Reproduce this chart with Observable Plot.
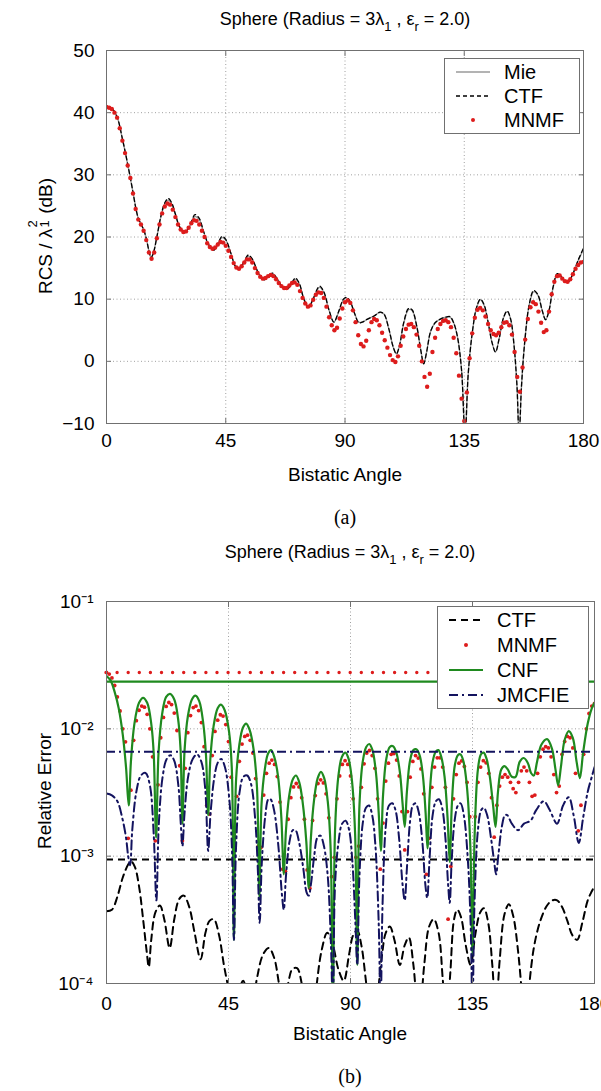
<!DOCTYPE html>
<html>
<head>
<meta charset="utf-8">
<script src="https://cdn.jsdelivr.net/npm/d3@7"></script>
<script src="https://cdn.jsdelivr.net/npm/@observablehq/plot@0.6"></script>
<style>
html,body{margin:0;padding:0;background:#fff;}
#wrap{position:relative;width:601px;height:1091px;overflow:hidden;font-family:"Liberation Sans",Arial,Helvetica,sans-serif;color:#000;background:#fff;}
#wrap svg.chart{position:absolute;left:0;}
.t{position:absolute;white-space:nowrap;transform:translate(-50%,-50%);line-height:1;}
.title{font-size:18px;}
.xl{font-size:19px;}
.yl{font-size:19px;transform:translate(-50%,-50%) rotate(-90deg);}
.pl{font-family:"Liberation Serif","Times New Roman",serif;font-size:20px;}
.title sub{font-size:0.72em;vertical-align:-0.5em;line-height:0;}
.ss{display:inline-block;position:relative;width:0.5em;height:1em;}
.ss .sp{position:absolute;left:1px;top:-0.5em;font-size:0.68em;}
.ss .sb{position:absolute;left:1px;top:0.45em;font-size:0.68em;}
svg.legend{position:absolute;}
</style>
</head>
<body>
<div id="wrap"></div>
<script>
// ---------------- DATA ----------------
const xTicks = [0, 45, 90, 135, 180];
const rcsTicks = [-10, 0, 10, 20, 30, 40, 50];
const errTicks = [1e-4, 1e-3, 1e-2, 1e-1];
const errTickLabels = ["10\u207B\u2074", "10\u207B\u00B3", "10\u207B\u00B2", "10\u207B\u00B9"];

// (a) RCS / lambda^2 (dB) — Mie reference, read as [angle, dB]
const mieCurve = [[0,41.0],[2,40.7],[4,39.3],[6,35.8],[8,31.7],[10,27.2],[11,24.8],[12,23.0],[13,22.1],[14,21.2],[15,19.8],[16,17.8],[16.8,16.7],[17.6,17.3],[19,20.0],[20.5,23.2],[22,25.3],[23.3,25.9],[24.6,25.3],[26,23.6],[27.5,21.7],[29.5,20.7],[31.5,21.8],[33.4,23.3],[35,22.8],[36.5,21.0],[38.5,18.8],[40.5,17.9],[42.2,19.0],[43.6,19.9],[45,19.5],[47,17.3],[48.5,15.4],[49.9,14.8],[51.5,15.6],[53.5,16.9],[55,16.4],[57,14.5],[59.3,13.1],[61,13.6],[62.6,14.1],[64.5,13.2],[66.5,11.9],[68.2,11.6],[70,12.6],[71.3,13.2],[72.8,12.4],[74.5,10.0],[76.3,8.7],[78,10.0],[80.4,11.9],[82,11.1],[84,8.2],[85.8,6.3],[87.5,7.8],[89.4,9.9],[90.5,10.2],[92,9.5],[93.7,7.6],[95.2,6.3],[96.5,6.3],[98.5,6.8],[101,7.3],[103.2,7.9],[104.7,7.6],[106.5,5.3],[108.2,2.3],[109.4,1.2],[110.6,2.6],[112.2,6.2],[114,8.3],[115.3,8.2],[117,5.8],[118.6,1.8],[119.7,-0.4],[120.8,1.5],[122.3,4.8],[124,6.2],[126,6.8],[128,7.1],[129.6,7.1],[131,6.2],[132.5,3.8],[134,-1.5],[135.3,-12],[136.5,-2],[138,4.5],[139.6,8.5],[141.1,9.9],[142.5,9.0],[144,6.3],[145.5,3.0],[146.8,1.5],[148.2,3.7],[149.8,7.0],[151.2,8.0],[152.5,6.8],[153.8,2.5],[154.9,-4],[155.7,-12],[156.6,-4],[157.8,3.0],[159.5,9.0],[161.2,11.2],[162.8,10.6],[164.4,8.2],[165.7,6.7],[167,8.2],[168.5,11.8],[170.1,14.0],[171.6,13.6],[173,12.9],[174.3,12.8],[176,14.0],[178,16.2],[180,18.0]];

// (a) CTF, read as [angle, dB]
const ctfCurve = [[0,41.0],[2,40.7],[4,39.3],[6,35.8],[8,31.7],[10,27.2],[11,24.8],[12,23.0],[13,22.1],[14,21.2],[15,19.8],[16,17.8],[16.8,16.7],[17.6,17.3],[19,20.0],[20.5,23.3],[22,25.5],[23.3,26.2],[24.6,25.5],[26,23.7],[27.5,21.7],[29.5,20.7],[31.5,21.9],[33.4,23.6],[35,23.0],[36.5,21.1],[38.5,18.8],[40.5,17.9],[42.2,19.1],[43.6,20.1],[45,19.6],[47,17.3],[48.5,15.4],[49.9,14.8],[51.5,15.7],[53.5,17.1],[55,16.5],[57,14.5],[59.3,13.1],[61,13.7],[62.6,14.2],[64.5,13.2],[66.5,11.9],[68.2,11.6],[70,12.7],[71.3,13.4],[72.8,12.5],[74.5,10.0],[76.3,8.7],[78,10.1],[80.4,12.1],[82,11.2],[84,8.2],[85.8,6.3],[87.5,7.9],[89.4,10.0],[90.5,10.3],[92,9.6],[93.7,7.6],[95.2,6.2],[96.5,6.3],[98.5,6.8],[101,7.3],[103.2,7.9],[104.7,7.6],[106.5,5.3],[108.2,2.3],[109.4,1.2],[110.6,2.6],[112.2,6.3],[114,8.5],[115.3,8.3],[117,5.8],[118.6,1.8],[119.7,-0.4],[120.8,1.5],[122.3,4.8],[124,6.2],[126,6.8],[128,7.1],[129.6,7.2],[131,6.2],[132.5,3.8],[134,-1.5],[135.3,-12],[136.5,-2],[138,4.5],[139.6,8.6],[141.1,10.0],[142.5,9.1],[144,6.3],[145.5,3.0],[146.8,1.5],[148.2,3.7],[149.8,7.0],[151.2,8.1],[152.5,6.8],[153.8,2.5],[154.9,-4],[155.7,-12],[156.6,-4],[157.8,3.0],[159.5,9.1],[161.2,11.4],[162.8,10.7],[164.4,8.2],[165.7,6.7],[167,8.2],[168.5,11.9],[170.1,14.1],[171.6,13.6],[173,12.9],[174.3,12.8],[176,14.1],[178,16.3],[180,18.2]];

// (a) MNMF, one value per degree 0..180 (dB)
const mnmfRcs = [
  40.9,40.8,40.6,40.0,39.2,37.5,35.5,33.5,31.5,29.5,
  27.0,24.5,22.8,22.0,21.0,19.5,17.5,16.5,17.5,19.8,
  22.0,23.8,24.9,25.4,25.2,24.4,23.2,22.0,21.2,20.8,
  20.9,21.5,22.2,22.7,22.6,22.0,21.0,20.0,19.0,18.4,
  18.1,18.3,18.8,19.2,19.1,18.6,17.8,16.8,15.8,15.1,
  14.9,15.3,15.9,16.4,16.4,15.9,15.0,14.2,13.6,13.3,
  13.4,13.7,13.9,13.7,13.2,12.6,12.1,11.8,11.8,12.2,
  12.6,12.7,12.3,11.3,10.2,9.3,8.8,9.0,9.9,10.7,
  11.1,11.0,10.2,8.8,7.1,5.8,5.0,5.4,6.9,8.5,
  9.5,9.8,9.4,8.2,6.3,4.2,2.8,2.4,3.3,5.0,
  6.3,6.8,6.6,5.8,4.6,3.4,2.2,1.0,0.2,-0.1,
  0.8,2.5,4.0,5.2,5.9,6.0,5.5,4.3,2.5,0.0,
  -2.5,-4.1,-2.0,1.5,3.8,5.2,6.0,6.5,6.6,6.3,
  5.5,3.8,1.3,-2.3,-6.0,-9.6,-5.0,0.5,4.5,7.0,
  8.3,8.6,8.2,7.2,6.0,5.0,4.4,4.2,4.6,5.5,
  6.2,6.3,5.8,4.3,1.5,-2.5,-4.9,-1.0,3.5,6.8,
  8.7,9.5,9.2,8.0,6.2,4.7,5.0,8.0,10.8,12.8,
  13.7,13.8,13.3,12.9,12.8,13.2,14.0,14.9,15.5,15.9,
  16.0];

// (b) relative error, CTF, [angle, error]
const ctfErrCurve = [[0,0.00037],[2,0.00038],[4,0.00048],[6,0.00068],[8,0.00086],[9.1,0.00091],[10.5,0.00082],[12,0.00058],[13.5,0.00032],[14.8,0.00018],[15.6,0.000135],[16.5,0.00022],[18,0.00036],[19.7,0.00041],[21.3,0.00032],[23.3,0.00019],[25,0.00032],[26.8,0.00046],[28.5,0.00049],[30.5,0.0004],[32.5,0.00025],[34.7,0.000155],[36.5,0.00025],[38,0.00031],[39.6,0.00032],[41.5,0.00024],[43.3,0.00014],[44.7,0.000098],[46,0.00007],[47.5,0.00007],[49,0.00009],[50.4,0.000105],[52,0.00008],[53.5,0.00006],[55.5,0.00011],[57.8,0.00017],[59.9,0.00019],[61.8,0.00016],[63.6,0.0001],[65.2,0.00006],[67,0.0001],[68.6,0.00013],[70.3,0.000132],[72,0.0001],[73.5,0.00006],[75,0.00004],[77,0.00008],[79.3,0.00018],[81.4,0.00025],[83.5,0.0002],[85.5,0.00013],[87.5,0.000105],[89.5,0.00017],[91,0.00024],[92.5,0.00026],[94,0.0002],[95.8,0.0001],[97.5,0.00005],[99.5,0.00007],[101.5,0.00016],[103,0.00025],[104.5,0.00028],[106.2,0.00022],[108.2,0.00014],[110,0.0002],[111.5,0.00023],[113.2,0.00014],[115.2,0.00005],[117.2,0.00014],[119,0.00028],[120.7,0.00032],[122.5,0.00025],[124,0.00011],[125.3,0.00005],[126.8,0.00012],[128.2,0.00032],[129.4,0.00038],[130.8,0.00033],[132.5,0.0002],[134.3,0.00014],[136,0.00024],[137.8,0.00036],[139.2,0.00039],[140.8,0.0003],[142.3,0.00014],[143.6,0.00006],[145,0.00015],[146.8,0.00035],[148.4,0.00042],[150,0.00034],[151.8,0.00018],[153.3,0.00008],[154.6,0.00004],[156,0.0001],[157.8,0.0002],[160,0.00031],[162.5,0.00041],[164.5,0.00045],[166.2,0.00045],[168,0.0004],[170,0.00031],[171.8,0.00024],[173.6,0.00022],[175.5,0.0003],[177.5,0.00045],[179,0.00053],[180,0.00058]];

// (b) MNMF, one value per degree 0..180
const mnmfErr = [
  0.0277,0.0269,0.0251,0.0219,0.0178,0.0138,0.0100,0.0079,0.00138,0.0033,
  0.00813,0.0116,0.0140,0.0151,0.0148,0.0130,0.0100,0.00603,0.00132,0.00363,
  0.00851,0.0123,0.0150,0.0161,0.0155,0.0133,0.0097,0.00513,0.00132,0.0049,
  0.00933,0.0127,0.0147,0.0151,0.0139,0.0112,0.00724,0.00251,0.00214,0.00617,
  0.00955,0.0117,0.0129,0.0126,0.0108,0.00794,0.00417,0.00063,0.00295,0.00556,
  0.00759,0.00871,0.00891,0.00813,0.00646,0.00407,0.0012,0.00117,0.00302,0.00447,
  0.00537,0.00568,0.00525,0.00422,0.00266,0.00079,0.00076,0.00195,0.00288,0.0035,
  0.00372,0.0035,0.00288,0.00195,0.00078,0.00056,0.00191,0.00299,0.00372,0.00398,
  0.00376,0.00309,0.0020,0.00069,0.00098,0.00282,0.00427,0.00525,0.00562,0.00525,
  0.00427,0.00282,0.00098,0.0012,0.00347,0.00531,0.00646,0.00676,0.00617,0.0049,
  0.00282,0.00079,0.00182,0.00389,0.00537,0.00631,0.0064,0.00568,0.00427,0.00224,
  0.00112,0.00224,0.00417,0.00555,0.00617,0.00589,0.00484,0.00309,0.00072,0.00138,
  0.00347,0.00501,0.00592,0.00592,0.00501,0.00347,0.00032,0.00083,0.00282,0.00437,
  0.00537,0.0056,0.00507,0.0038,0.00204,0.00025,0.00204,0.0038,0.00501,0.00562,
  0.00541,0.00447,0.00288,0.00141,0.00251,0.00355,0.00417,0.00437,0.00417,0.0038,
  0.00339,0.00316,0.0038,0.00468,0.00501,0.00468,0.0038,0.00295,0.00302,0.00447,
  0.00603,0.00692,0.00724,0.00708,0.00603,0.00437,0.00316,0.00355,0.00631,0.00794,
  0.00871,0.00851,0.00708,0.00447,0.00158,0.00251,0.00631,0.0100,0.0132,0.0151,
  0.0158];

// (b) CNF, [angle, error]
const cnfCurve = [[0,0.026],[1.5,0.024],[3,0.0195],[4.5,0.0145],[6,0.009],[7.2,0.005],[8.2,0.0025],[9.0,0.0055],[10.3,0.011],[12,0.016],[13.5,0.0175],[15,0.016],[16.5,0.011],[17.4,0.0065],[18.3,0.0014],[19.2,0.0065],[20.5,0.013],[22,0.0178],[23.4,0.0188],[25,0.017],[26.4,0.012],[27.3,0.007],[28.0,0.0018],[28.8,0.0068],[30.0,0.0125],[31.5,0.017],[32.8,0.0182],[34.2,0.0165],[35.7,0.011],[36.7,0.0062],[37.5,0.0021],[38.3,0.0058],[39.5,0.0105],[41,0.0145],[42.2,0.0155],[43.6,0.014],[45.2,0.0095],[46.2,0.005],[47.0,0.00022],[47.8,0.004],[49,0.0075],[50.3,0.0102],[51.5,0.011],[52.8,0.0098],[54.3,0.0068],[55.5,0.0035],[56.4,0.00048],[57.2,0.0026],[58.4,0.0048],[59.6,0.0064],[60.7,0.0068],[61.9,0.006],[63.3,0.0042],[64.5,0.002],[65.4,0.00072],[66.2,0.0016],[67.4,0.003],[68.7,0.004],[69.9,0.0043],[71.1,0.0038],[72.4,0.0026],[73.7,0.0013],[74.6,0.00056],[75.4,0.0014],[76.6,0.0028],[77.9,0.0041],[79.1,0.0046],[80.3,0.0041],[81.6,0.0027],[82.7,0.0011],[83.5,0.00006],[84.3,0.0016],[85.5,0.0042],[86.8,0.006],[88.1,0.0065],[89.3,0.0058],[90.6,0.0038],[91.7,0.0015],[92.5,0.00014],[93.3,0.0025],[94.5,0.0055],[95.8,0.0072],[96.9,0.0076],[98.1,0.0068],[99.4,0.0045],[100.4,0.0022],[101.2,0.0011],[102,0.003],[103.2,0.0058],[104.5,0.0072],[105.7,0.0073],[106.9,0.0065],[108.2,0.0046],[109.2,0.0026],[110,0.0017],[110.8,0.0032],[112,0.0057],[113.2,0.0068],[114.3,0.0069],[115.5,0.0062],[116.7,0.0043],[117.7,0.0022],[118.4,0.00115],[119.2,0.003],[120.3,0.0055],[121.4,0.0066],[122.4,0.0068],[123.5,0.006],[124.7,0.0042],[125.8,0.002],[126.6,0.0009],[127.4,0.0026],[128.5,0.0052],[129.6,0.0062],[130.6,0.0063],[131.7,0.0055],[132.9,0.0036],[134.2,0.0012],[135,0.00017],[135.8,0.0015],[137,0.0048],[138.1,0.0063],[139.1,0.0065],[140.2,0.0058],[141.4,0.0042],[142.6,0.0025],[143.5,0.0017],[144.4,0.0032],[145.6,0.0048],[146.8,0.0051],[148,0.0048],[149.5,0.0042],[150.9,0.0042],[152.4,0.0055],[153.9,0.0059],[155.4,0.0054],[156.6,0.0045],[157.6,0.0043],[158.8,0.0055],[160.4,0.0075],[162.5,0.0083],[164.3,0.007],[165.6,0.0048],[166.6,0.0036],[167.6,0.005],[169,0.0082],[170.5,0.0096],[172,0.0085],[173.4,0.0055],[174.6,0.0041],[175.8,0.0065],[177.5,0.011],[179,0.0145],[180,0.016]];

// (b) JMCFIE, [angle, error]
const jmcfieCurve = [[0,0.0031],[2,0.003],[4,0.0027],[5.8,0.002],[7.2,0.0014],[8,0.001],[8.7,0.00085],[9.5,0.0016],[11,0.0032],[12.7,0.0043],[14.4,0.0045],[16,0.0036],[17.4,0.0015],[18.4,0.00045],[19.3,0.0018],[20.7,0.0042],[22.2,0.0058],[23.6,0.0062],[25,0.0056],[26.5,0.0036],[27.4,0.0018],[28,0.0012],[28.8,0.0022],[30.1,0.0042],[31.8,0.0058],[33.4,0.0063],[35,0.0055],[36.4,0.0034],[37.5,0.0011],[38.4,0.0022],[39.8,0.0042],[41,0.0054],[42.3,0.0058],[43.7,0.005],[45.3,0.0028],[46.3,0.0011],[47,0.00022],[47.8,0.0012],[49.1,0.0032],[50.5,0.0042],[51.9,0.0043],[53.3,0.0037],[54.8,0.002],[55.8,0.0008],[56.5,0.0003],[57.3,0.0009],[58.6,0.0021],[59.7,0.0028],[60.5,0.0028],[61.8,0.0023],[63.4,0.0012],[64.7,0.0005],[65.4,0.00038],[66.2,0.0007],[67.5,0.0013],[68.7,0.0016],[69.7,0.0016],[71,0.0013],[72.6,0.0008],[73.8,0.00052],[74.6,0.00049],[75.4,0.0006],[76.6,0.001],[77.8,0.0014],[78.9,0.00145],[80.2,0.0012],[81.6,0.0007],[82.8,0.0002],[83.5,0.00006],[84.3,0.0006],[85.6,0.0013],[86.9,0.0018],[88.2,0.0019],[89.5,0.0016],[90.7,0.0009],[91.8,0.0003],[92.5,0.00014],[93.3,0.0007],[94.5,0.0018],[95.7,0.0024],[96.8,0.0025],[98,0.0021],[99.2,0.0012],[100.4,0.0003],[101.1,0.00006],[101.8,0.0004],[103,0.0017],[104.2,0.0025],[105.4,0.0026],[106.6,0.0023],[107.9,0.0014],[109.2,0.0006],[110,0.00045],[110.8,0.0008],[112,0.0019],[113,0.0025],[114,0.0026],[115.2,0.0022],[116.5,0.0013],[117.6,0.0006],[118.3,0.00047],[119.1,0.0009],[120.3,0.0021],[121.5,0.0027],[122.6,0.0028],[123.8,0.0024],[125,0.0014],[126,0.0006],[126.6,0.00043],[127.3,0.0009],[128.4,0.0019],[129.6,0.0025],[130.6,0.0026],[131.8,0.0021],[133.2,0.001],[134.3,0.0003],[135,0.00006],[135.7,0.0004],[137,0.0016],[138.2,0.0023],[139.2,0.0024],[140.4,0.0021],[141.8,0.0014],[143,0.0009],[143.7,0.00072],[144.5,0.001],[145.8,0.0017],[147,0.0021],[147.8,0.0021],[149.5,0.0018],[151.8,0.0016],[154,0.0018],[156.4,0.0019],[158.5,0.0023],[161.3,0.0027],[163.5,0.0023],[166.2,0.0018],[168.4,0.0025],[170.5,0.0029],[172.3,0.0021],[174.2,0.00127],[175.8,0.002],[177.5,0.0032],[179,0.0042],[180,0.005]];

// (b) horizontal mean-error levels
const meanCtf = 0.00094;
const meanMnmf = 0.0277;
const meanCnf = 0.0235;
const meanJmcfie = 0.0066;

// ---------------- TABLES ----------------
const pairs = (arr, key) => arr.map(([angle, v]) => ({angle, [key]: v}));
const mieT = pairs(mieCurve, "db");
const ctfT = pairs(ctfCurve, "db");
const mnmfT = mnmfRcs.map((db, i) => ({angle: i, db}));
const ctfErrT = pairs(ctfErrCurve, "err");
const mnmfErrT = mnmfErr.map((err, i) => ({angle: i, err}));
const cnfT = pairs(cnfCurve, "err");
const jmcT = pairs(jmcfieCurve, "err");

// ---------------- STYLE ----------------
const FONT = "'Liberation Sans', Arial, Helvetica, sans-serif";
const RED = "#dd1c1c", GREEN = "#1f8a1f", NAVY = "#13135f", FRAME = "#707070";
const gridStyle = {stroke: "#a0a0a0", strokeOpacity: 1, strokeWidth: 1, strokeDasharray: "1,2.5"};
const noText = () => "";

function inwardTicks(xt, yt) {
  return [
    Plot.axisX({ticks: xt, anchor: "bottom", tickSize: -5, tickFormat: noText, label: null, stroke: FRAME}),
    Plot.axisX({ticks: xt, anchor: "top", tickSize: -5, tickFormat: noText, label: null, stroke: FRAME}),
    Plot.axisY({ticks: yt, anchor: "left", tickSize: -5, tickFormat: noText, label: null, stroke: FRAME}),
    Plot.axisY({ticks: yt, anchor: "right", tickSize: -5, tickFormat: noText, label: null, stroke: FRAME})
  ];
}

const wrap = document.getElementById("wrap");

// ---------------- (a) ----------------
const chartA = Plot.plot({
  width: 601, height: 460,
  marginTop: 50, marginRight: 18, marginBottom: 37, marginLeft: 106,
  style: {fontFamily: FONT, fontSize: "19px", color: "#000", background: "transparent"},
  x: {domain: [0, 180]},
  y: {domain: [-10, 50]},
  marks: [
    Plot.gridX({ticks: [45, 90, 135], ...gridStyle}),
    Plot.gridY({ticks: [0, 10, 20, 30, 40], ...gridStyle}),
    Plot.line(mieT, {x: "angle", y: "db", stroke: "#9a9a9a", strokeWidth: 1.4, curve: "catmull-rom", clip: true}),
    Plot.line(ctfT, {x: "angle", y: "db", stroke: "#000", strokeWidth: 1.3, strokeDasharray: "4,3", curve: "catmull-rom", clip: true}),
    Plot.dot(mnmfT, {x: "angle", y: "db", r: 2.2, fill: RED, stroke: "none", clip: true}),
    Plot.frame({stroke: FRAME}),
    Plot.axisX({ticks: xTicks, tickSize: 0, tickPadding: 10, label: null}),
    Plot.axisY({ticks: rcsTicks, tickSize: 0, tickPadding: 12, label: null}),
    ...inwardTicks(xTicks, rcsTicks)
  ]
});
chartA.classList.add("chart");
chartA.style.top = "0px";
wrap.appendChild(chartA);

// ---------------- (b) ----------------
const chartB = Plot.plot({
  width: 601, height: 480,
  marginTop: 41, marginRight: 7, marginBottom: 57, marginLeft: 106,
  style: {fontFamily: FONT, fontSize: "19px", color: "#000", background: "transparent"},
  x: {domain: [0, 180]},
  y: {type: "log", domain: [1e-4, 1e-1]},
  marks: [
    Plot.gridX({ticks: [45, 90, 135], ...gridStyle}),
    Plot.gridY({ticks: [1e-3, 1e-2], ...gridStyle}),
    Plot.line(ctfErrT, {x: "angle", y: "err", stroke: "#000", strokeWidth: 2, strokeDasharray: "7,5", curve: "catmull-rom", clip: true}),
    Plot.ruleY([meanCtf], {stroke: "#000", strokeWidth: 2, strokeDasharray: "7,5"}),
    Plot.dot(mnmfErrT, {x: "angle", y: "err", r: 1.9, fill: RED, stroke: "none", clip: true}),
    Plot.ruleY([meanMnmf], {stroke: RED, strokeWidth: 3.4, strokeDasharray: "0,11.1", strokeLinecap: "round"}),
    Plot.line(cnfT, {x: "angle", y: "err", stroke: GREEN, strokeWidth: 2.2, curve: "catmull-rom", clip: true}),
    Plot.ruleY([meanCnf], {stroke: GREEN, strokeWidth: 2.2}),
    Plot.line(jmcT, {x: "angle", y: "err", stroke: NAVY, strokeWidth: 2, strokeDasharray: "9,4,2,4", curve: "catmull-rom", clip: true}),
    Plot.ruleY([meanJmcfie], {stroke: NAVY, strokeWidth: 2, strokeDasharray: "9,4,2,4"}),
    Plot.frame({stroke: FRAME}),
    Plot.axisX({ticks: xTicks, tickSize: 0, tickPadding: 13, label: null}),
    Plot.axisY({ticks: errTicks, tickSize: 0, tickPadding: 13, label: null,
      tickFormat: d => errTickLabels[errTicks.indexOf(d)]}),
    ...inwardTicks(xTicks, errTicks)
  ]
});
chartB.classList.add("chart");
chartB.style.top = "560px";
wrap.appendChild(chartB);

// ---------------- TEXT ----------------
function addText(cls, html, x, y) {
  const d = document.createElement("div");
  d.className = "t " + cls;
  d.innerHTML = html;
  d.style.left = x + "px";
  d.style.top = y + "px";
  wrap.appendChild(d);
}
const titleHtml = "Sphere (Radius = 3\u03BB<sub>1</sub> , \u03B5<sub>r</sub> = 2.0)";
addText("title", titleHtml, 345, 19);
addText("title", titleHtml, 350, 552);
addText("xl", "Bistatic Angle", 345, 474);
addText("xl", "Bistatic Angle", 350, 1033);
addText("pl", "(a)", 345, 517);
addText("pl", "(b)", 350, 1076);
addText("yl", "RCS / \u03BB<span class=\"ss\"><span class=\"sp\">2</span><span class=\"sb\">1</span></span> (dB)", 44, 236);
addText("yl", "Relative Error", 44, 791);

// ---------------- LEGENDS ----------------
const NS = "http://www.w3.org/2000/svg";
function legend(left, top, w, entries, rowGap) {
  const h = 14 * 2 + rowGap * (entries.length - 1);
  const s = document.createElementNS(NS, "svg");
  s.setAttribute("class", "legend");
  s.setAttribute("width", w);
  s.setAttribute("height", h);
  s.style.left = left + "px";
  s.style.top = top + "px";
  let inner = `<rect x="0.5" y="0.5" width="${w - 1}" height="${h - 1}" fill="#fff" stroke="${FRAME}"/>`;
  entries.forEach((e, i) => {
    const y = 14 + i * rowGap;
    if (e.dot) inner += `<circle cx="29" cy="${y}" r="2" fill="${e.stroke}"/>`;
    else inner += `<line x1="12" x2="46" y1="${y}" y2="${y}" stroke="${e.stroke}" stroke-width="${e.w}" ${e.dash ? `stroke-dasharray="${e.dash}"` : ""}/>`;
    inner += `<text x="60" y="${y}" dy="0.36em" font-family="${FONT.replace(/'/g, "")}" font-size="20" fill="#000">${e.label}</text>`;
  });
  s.innerHTML = inner;
  wrap.appendChild(s);
}
legend(444, 58, 136, [
  {label: "Mie", stroke: "#9a9a9a", w: 1.4},
  {label: "CTF", stroke: "#000", w: 1.3, dash: "4,3"},
  {label: "MNMF", stroke: RED, dot: true}
], 24);
legend(437, 606, 152, [
  {label: "CTF", stroke: "#000", w: 2, dash: "7,5"},
  {label: "MNMF", stroke: RED, dot: true},
  {label: "CNF", stroke: GREEN, w: 2.2},
  {label: "JMCFIE", stroke: NAVY, w: 2, dash: "9,4,2,4"}
], 25);
</script>
</body>
</html>
